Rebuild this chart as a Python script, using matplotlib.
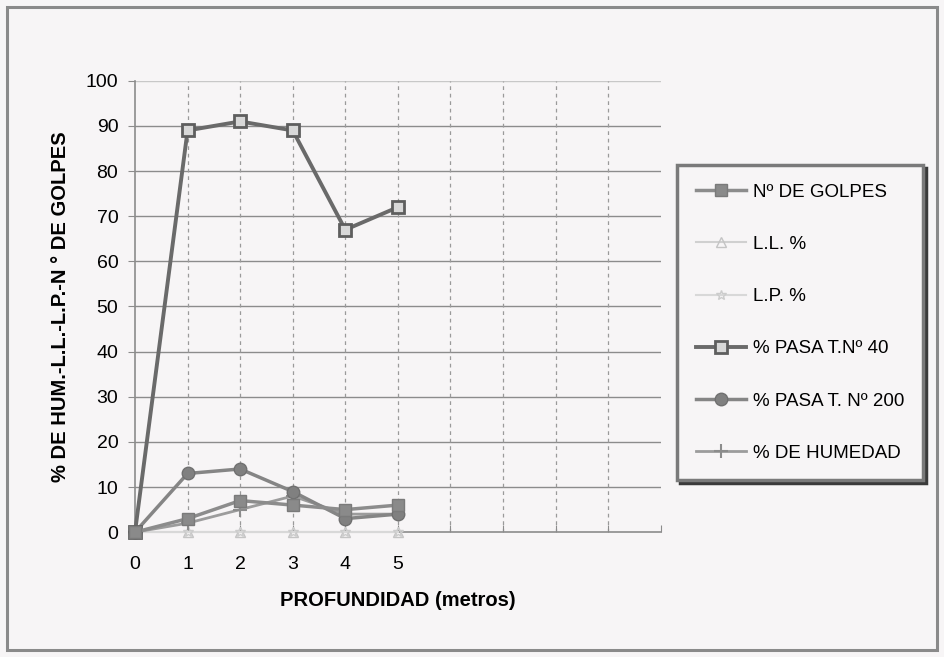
import matplotlib
matplotlib.use('Agg')
import matplotlib.pyplot as plt
from matplotlib.patches import Rectangle

plt.rcParams['font.family'] = ['Liberation Sans', 'DejaVu Sans']

# profundidad (m) y ensayos
profundidad = [0, 1, 2, 3, 4, 5]
golpes = [0, 3, 7, 6, 5, 6]
limite_liquido = [0, 0, 0, 0, 0, 0]
limite_plastico = [0, 0, 0, 0, 0, 0]
pasa_40 = [0, 89, 91, 89, 67, 72]
pasa_200 = [0, 13, 14, 9, 3, 4]
humedad = [0, 2, 5, 8, 4, 4]

x_ticks = list(range(11))
x_labels = ['0', '1', '2', '3', '4', '5', '', '', '', '', '']
y_ticks = list(range(0, 101, 10))

BG = '#f7f5f6'

fig = plt.figure(figsize=(9.44, 6.57), dpi=100, facecolor=BG)
ax = fig.add_axes([0.143, 0.190, 0.557, 0.687], facecolor=BG)

# marco exterior
fig.patches.append(Rectangle((0.007, 0.010), 0.986, 0.980, transform=fig.transFigure,
                             fill=False, edgecolor='#8a8a8a', lw=2.2))

for y in y_ticks[1:]:
    ax.axhline(y, color='#8c8c8c' if y < 100 else '#c8c8c8', lw=1.0, zorder=1)
for x in x_ticks[1:-1]:
    ax.axvline(x, color='#9a9a9a', lw=0.9, ls=(0, (3, 3)), zorder=1)

ax.plot(profundidad, limite_liquido, color='#d0d0d0', lw=1.5, marker='^', ms=7,
        mfc='none', mec='#c4c4c4', label='L.L. %', zorder=3, clip_on=False)
ax.plot(profundidad, limite_plastico, color='#d8d8d8', lw=1.5, marker='*', ms=7,
        mfc='none', mec='#cccccc', label='L.P. %', zorder=3, clip_on=False)
ax.plot(profundidad, humedad, color='#9c9c9c', lw=2, marker='+', ms=10, mew=1.5,
        mec='#8c8c8c', label='% DE HUMEDAD', zorder=4, clip_on=False)
ax.plot(profundidad, pasa_200, color='#858585', lw=2.5, marker='o', ms=9,
        mfc='#808080', mec='#707070', label='% PASA T. Nº 200', zorder=5, clip_on=False)
ax.plot(profundidad, pasa_40, color='#6a6a6a', lw=2.8, marker='s', ms=9,
        mfc='#d8d8d8', mec='#5e5e5e', mew=2, label='% PASA T.Nº 40', zorder=6, clip_on=False)
ax.plot(profundidad, golpes, color='#8c8c8c', lw=2.5, marker='s', ms=8,
        mfc='#8a8a8a', mec='#7a7a7a', label='Nº DE GOLPES', zorder=7, clip_on=False)

ax.set_xlim(0, 10)
ax.set_ylim(0, 100)
ax.set_xticks(x_ticks)
ax.set_xticklabels(x_labels)
ax.set_yticks(y_ticks)
ax.tick_params(axis='x', direction='in', length=5, color='#8c8c8c', pad=17, labelsize=14)
ax.tick_params(axis='y', direction='out', length=5, color='#8c8c8c', pad=7, labelsize=14)

for side in ['top', 'right']:
    ax.spines[side].set_visible(False)
ax.spines['left'].set_color('#8c8c8c')
ax.spines['bottom'].set_color('#8c8c8c')
ax.spines['left'].set_linewidth(1.2)
ax.spines['bottom'].set_linewidth(1.2)

ax.set_xlabel('PROFUNDIDAD (metros)', fontsize=14.5, fontweight='bold', labelpad=13)
ax.set_ylabel('% DE HUM.-L.L.-L.P.-N ° DE GOLPES', fontsize=14.5, fontweight='bold', labelpad=11)

handles, labels = ax.get_legend_handles_labels()
order = ['Nº DE GOLPES', 'L.L. %', 'L.P. %', '% PASA T.Nº 40', '% PASA T. Nº 200', '% DE HUMEDAD']
h = [handles[labels.index(l)] for l in order]
leg = fig.legend(h, order, loc='upper left', bbox_to_anchor=(0.717, 0.749),
                 borderaxespad=0, fontsize=13.5, frameon=True, fancybox=False,
                 handlelength=2.7, handletextpad=0.37, labelspacing=1.87, borderpad=1.0,
                 shadow={'color': '#3a3a3a', 'alpha': 1.0})
leg.get_frame().set_edgecolor('#7a7a7a')
leg.get_frame().set_linewidth(2.5)
leg.get_frame().set_facecolor(BG)

fig.savefig('out.png', dpi=100, facecolor=BG)
